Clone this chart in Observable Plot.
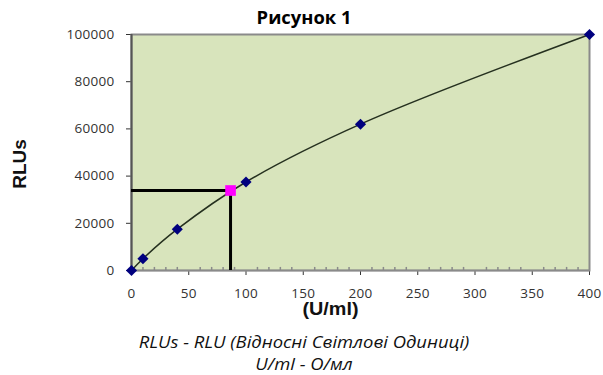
<!DOCTYPE html>
<html>
<head>
<meta charset="utf-8">
<script src="https://cdn.jsdelivr.net/npm/d3@7"></script>
<script src="https://cdn.jsdelivr.net/npm/@observablehq/plot@0.6"></script>
<style>
  body { margin: 0; background: #fff; font-family: "Open Sans", sans-serif; width: 603px; height: 375px; position: relative; overflow: hidden; }
  #title { position: absolute; left: 0; width: 608px; top: 6px; text-align: center; font-weight: bold; font-size: 17px; line-height: 23px; color: #000; font-family: "Open Sans", sans-serif; transform: scaleX(1.08); }
  #chart { position: absolute; left: 0; top: 26px; }
  #ylab { position: absolute; left: 20px; top: 164px; transform: translate(-50%, -50%) rotate(-90deg); font-weight: bold; font-size: 19px; line-height: 22px; font-family: "Liberation Sans", Arial, sans-serif; color: #111; white-space: nowrap; }
  #xlab { position: absolute; left: 230px; width: 201px; top: 299px; text-align: center; font-weight: bold; font-size: 18px; line-height: 21px; font-family: "Liberation Sans", Arial, sans-serif; color: #111; transform: scaleX(1.1); }
  .cap { position: absolute; left: 0; width: 608px; text-align: center; font-style: italic; font-size: 16px; line-height: 21px; color: #111; font-family: "Open Sans", sans-serif; transform: scaleX(1.15); }
</style>
</head>
<body>
<div id="title">Рисунок 1</div>
<div id="chart"></div>
<div id="ylab">RLUs</div>
<div id="xlab">(U/ml)</div>
<div class="cap" style="top:332px">RLUs - RLU (Відносні Світлові Одиниці)</div>
<div class="cap" style="top:354px">U/ml - О/мл</div>
<script>
const concentrations = [0, 10, 40, 100, 200, 400];
const rlus = [0, 5000, 17500, 37500, 62000, 100000];
const sampleX = [86.5];
const sampleY = [33900];
const xTickValues = [0, 50, 100, 150, 200, 250, 300, 350, 400];
const xMinorTicks = d3.range(10, 400, 10).filter(d => d % 50 !== 0);
const yTickValues = [0, 20000, 40000, 60000, 80000, 100000];

const points = concentrations.map((c, i) => ({x: c, y: rlus[i]}));
const sample = sampleX.map((x, i) => ({x, y: sampleY[i]}));

const chart = Plot.plot({
  width: 603,
  height: 300,
  marginLeft: 131,
  marginRight: 14,
  marginTop: 8,
  marginBottom: 56,
  style: {fontFamily: "'Open Sans', sans-serif", fontSize: "13.5px", color: "#333", background: "transparent", letterSpacing: "0.3px"},
  x: {domain: [0, 400], ticks: xTickValues, tickFormat: d => String(d), tickSize: 5, tickPadding: 13, label: null},
  y: {domain: [0, 100000], ticks: yTickValues, tickFormat: d => String(d), tickSize: 5, tickPadding: 12, label: null},
  marks: [
    Plot.frame({fill: "#d8e4bc", stroke: "#8a8a8a", strokeWidth: 2}),
    Plot.ruleX([0], {stroke: "#555", strokeWidth: 2}),
    Plot.ruleY([0], {stroke: "#8a8a8a", strokeWidth: 1.5}),
    Plot.ruleX(xMinorTicks, {x: d => d, y1: 0, y2: 1300, stroke: "#8a8a8a", strokeWidth: 1.5}),
    Plot.line(points, {x: "x", y: "y", curve: "catmull-rom", stroke: "#25301f", strokeWidth: 1.5}),
    Plot.ruleY(sample, {y: "y", x1: 0, x2: "x", stroke: "#000", strokeWidth: 3}),
    Plot.ruleX(sample, {x: "x", y1: 0, y2: "y", stroke: "#000", strokeWidth: 3}),
    Plot.dot(points, {x: "x", y: "y", symbol: "diamond2", r: 5, fill: "#00007f", stroke: "none"}),
    Plot.dot(sample, {x: "x", y: "y", symbol: "square", r: 6, fill: "#ff00ff", stroke: "none"})
  ]
});
document.getElementById("chart").appendChild(chart);
</script>
</body>
</html>
